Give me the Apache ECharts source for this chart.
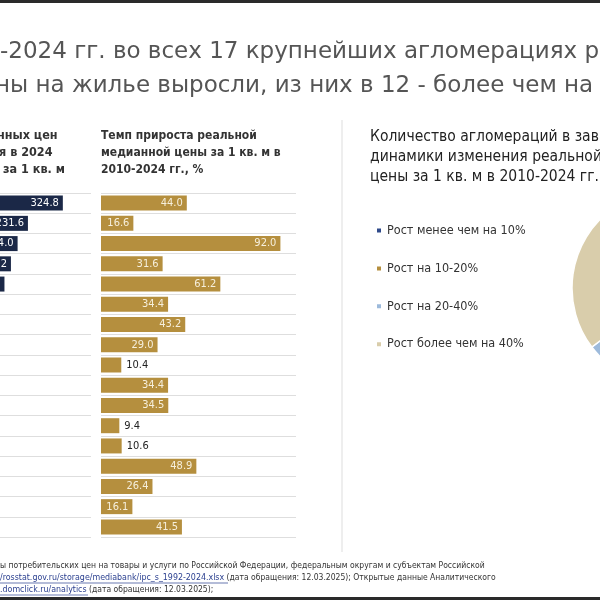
<!DOCTYPE html>
<html><head><meta charset="utf-8">
<script src="https://cdn.jsdelivr.net/npm/echarts@6/dist/echarts.min.js"></script>
<style>html,body{margin:0;padding:0;background:#fff}#c{width:600px;height:600px}</style>
</head><body><div id="c"></div>
<script>
// ---- data ----
const categories = ['a1','a2','a3','a4','a5','a6','a7','a8','a9','a10','a11','a12','a13','a14','a15','a16','a17'];
// real median price 2024 (only the visible, uncropped values can be read)
const priceLevel = [324.8, 231.6, 204.0, 186.2, 168.9, null, null, null, null, null, null, null, null, null, null, null, null];
// real median price growth 2010-2024, %
const growthPct = [44.0, 16.6, 92.0, 31.6, 61.2, 34.4, 43.2, 29.0, 10.4, 34.4, 34.5, 9.4, 10.6, 48.9, 26.4, 16.1, 41.5];
const pieNames = ['Рост менее чем на 10%', 'Рост на 10-20%', 'Рост на 20-40%', 'Рост более чем на 40%'];
const pieCounts = [1, 4, 6, 6];
const pieColors = ['#2f4a8a', '#b58f3e', '#9dbadb', '#d9cdab'];

const FONT = '"DejaVu Sans Condensed", "DejaVu Sans", sans-serif';
const FONT_W = '"DejaVu Sans", sans-serif';
const chart = echarts.init(document.getElementById('c'));

const growthData = growthPct.map(v => ({
  value: v,
  label: v >= 12
    ? {position: 'insideRight', color: '#f6efdc', distance: 4}
    : {position: 'right', color: '#222', distance: 5}
}));

chart.setOption({
  animation: false,
  textStyle: {fontFamily: FONT},
  grid: [
    {left: 0, top: 193, width: 91, height: 344},
    {left: 101, top: 193, width: 195, height: 344}
  ],
  xAxis: [
    {gridIndex: 0, type: 'value', min: 157, max: 400, show: false},
    {gridIndex: 1, type: 'value', min: 0, max: 100, show: false}
  ],
  yAxis: [
    {gridIndex: 0, type: 'category', data: categories, inverse: true,
     axisLine: {show: false}, axisTick: {show: false}, axisLabel: {show: false},
     splitLine: {show: true, lineStyle: {color: '#dedede', width: 1}}},
    {gridIndex: 1, type: 'category', data: categories, inverse: true,
     axisLine: {show: false}, axisTick: {show: false}, axisLabel: {show: false},
     splitLine: {show: true, lineStyle: {color: '#dedede', width: 1}}}
  ],
  legend: {
    orient: 'vertical', left: 370, top: 219, itemGap: 24.9,
    icon: 'rect', itemWidth: 6, itemHeight: 6,
    textStyle: {fontFamily: FONT, fontSize: 12.5, color: '#333'},
    data: pieNames
  },
  series: [
    {type: 'bar', xAxisIndex: 0, yAxisIndex: 0, data: priceLevel, barWidth: 15,
     itemStyle: {color: '#1b2847'},
     label: {show: true, position: 'insideRight', color: '#fff', fontSize: 11, fontFamily: FONT, distance: 4,
       formatter: p => p.value == null ? '' : p.value.toFixed(1)}},
    {type: 'bar', xAxisIndex: 1, yAxisIndex: 1, data: growthData, barWidth: 15,
     itemStyle: {color: '#b58f3e'},
     label: {show: true, fontSize: 11, fontFamily: FONT, formatter: p => p.value.toFixed(1)}},
    {type: 'pie', center: [670, 288], radius: 98, startAngle: 90, clockwise: true,
     label: {show: false}, labelLine: {show: false},
     itemStyle: {borderColor: '#fff', borderWidth: 1.5},
     data: pieNames.map((n, i) => ({name: n, value: pieCounts[i], itemStyle: {color: pieColors[i]}}))}
  ],
  graphic: [
    {type: 'rect', shape: {x: 0, y: 0, width: 600, height: 3}, style: {fill: '#2a2a2a'}},
    {type: 'rect', shape: {x: 0, y: 597, width: 600, height: 3}, style: {fill: '#2a2a2a'}},
    {type: 'line', shape: {x1: 342, y1: 120, x2: 342, y2: 552}, style: {stroke: '#dddddd', lineWidth: 1}},
    {type: 'text', x: 0, y: 52, style: {text: '-2024 гг. во всех 17 крупнейших агломерациях реальные', font: '23px ' + FONT_W, fill: '#555', verticalAlign: 'middle'}},
    {type: 'text', x: -5, y: 86, style: {text: 'ны на жилье выросли, из них в 12 - более чем на 20%', font: '23px ' + FONT_W, fill: '#555', verticalAlign: 'middle'}},
    {type: 'text', x: -3, y: 136, style: {text: 'нных цен', font: 'bold 12.5px ' + FONT, fill: '#333', verticalAlign: 'middle'}},
    {type: 'text', x: -1, y: 153, style: {text: 'я в 2024', font: 'bold 12.5px ' + FONT, fill: '#333', verticalAlign: 'middle'}},
    {type: 'text', x: 3, y: 170, style: {text: 'за 1 кв. м', font: 'bold 12.5px ' + FONT, fill: '#333', verticalAlign: 'middle'}},
    {type: 'text', x: 101, y: 136, style: {text: 'Темп прироста реальной', font: 'bold 12px ' + FONT, fill: '#333', verticalAlign: 'middle'}},
    {type: 'text', x: 101, y: 153, style: {text: 'медианной цены за 1 кв. м в', font: 'bold 12px ' + FONT, fill: '#333', verticalAlign: 'middle'}},
    {type: 'text', x: 101, y: 170, style: {text: '2010-2024 гг., %', font: 'bold 12px ' + FONT, fill: '#333', verticalAlign: 'middle'}},
    {type: 'text', x: 370, y: 137, style: {text: 'Количество агломераций в зависимости от', font: '15.5px ' + FONT, fill: '#222', verticalAlign: 'middle'}},
    {type: 'text', x: 370, y: 157, style: {text: 'динамики изменения реальной медианной', font: '15.5px ' + FONT, fill: '#222', verticalAlign: 'middle'}},
    {type: 'text', x: 370, y: 177, style: {text: 'цены за 1 кв. м в 2010-2024 гг., %', font: '15.5px ' + FONT, fill: '#222', verticalAlign: 'middle'}},
    {type: 'text', x: 0, y: 566, style: {text: 'ы потребительских цен на товары и услуги по Российской Федерации, федеральным округам и субъектам Российской', font: '8.5px ' + FONT, fill: '#333', verticalAlign: 'middle'}},
    {type: 'text', x: 0, y: 578, style: {text: '{l|/rosstat.gov.ru/storage/mediabank/ipc_s_1992-2024.xlsx} (дата обращения: 12.03.2025); Открытые данные Аналитического', font: '8.5px ' + FONT, fill: '#333', verticalAlign: 'middle', rich: {l: {fill: '#2a3f8f', font: '8.8px ' + FONT}}}},
    {type: 'text', x: 0, y: 590, style: {text: '{l|.domclick.ru/analytics} (дата обращения: 12.03.2025);', font: '8.5px ' + FONT, fill: '#333', verticalAlign: 'middle', rich: {l: {fill: '#2a3f8f', font: '8.8px ' + FONT}}}},
    {type: 'line', shape: {x1: 0, y1: 583, x2: 228, y2: 583}, style: {stroke: '#2a3f8f', lineWidth: 0.7}},
    {type: 'line', shape: {x1: 0, y1: 595, x2: 88, y2: 595}, style: {stroke: '#2a3f8f', lineWidth: 0.7}}
  ]
});
</script></body></html>
